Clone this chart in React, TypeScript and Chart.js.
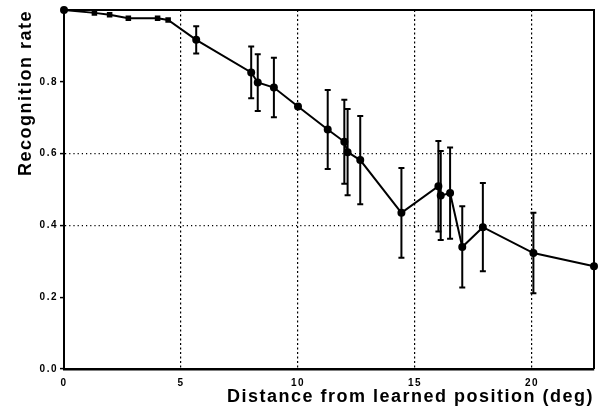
import React, { useEffect, useRef } from "react";
import { Chart, registerables } from "chart.js";

Chart.register(...registerables);

// Distance from learned position (deg)
const distanceDeg = [0, 1.3, 1.95, 2.75, 4.0, 4.45, 5.65, 8.0, 8.28, 8.97, 10.0, 11.27, 11.98, 12.12, 12.66, 14.42, 16.0, 16.1, 16.5, 17.02, 17.9, 20.06, 22.65];
// Recognition rate
const recognitionRate = [1.0, 0.992, 0.987, 0.977, 0.977, 0.972, 0.917, 0.826, 0.798, 0.784, 0.731, 0.667, 0.633, 0.604, 0.582, 0.435, 0.509, 0.483, 0.49, 0.34, 0.395, 0.323, 0.286];
// Error (half-length of error bars)
const rateError = [0, 0, 0, 0, 0, 0, 0.038, 0.072, 0.079, 0.083, 0, 0.11, 0.117, 0.12, 0.123, 0.125, 0.126, 0.124, 0.127, 0.113, 0.123, 0.112, 0];

const xTickValues = [0, 5, 10, 15, 20];
const yTickLabels = ["0.0", "0.2", "0.4", "0.6", "0.8"];
const xGridValues = [5, 10, 15, 20];
const yGridValues = [0.4, 0.6];
const xMax = 22.65;
const yMax = 1.0;

const xTitle = "Distance from learned position (deg)";
const yTitle = "Recognition rate";

const errorBarPlugin = {
  id: "errorBars",
  afterDatasetsDraw(chart: any) {
    const { ctx, scales } = chart;
    const xs = scales.x;
    const ys = scales.y;
    ctx.save();
    ctx.strokeStyle = "#000";
    ctx.lineWidth = 2;
    ctx.setLineDash([]);
    for (let i = 0; i < distanceDeg.length; i++) {
      const e = rateError[i];
      if (!e) continue;
      const px = xs.getPixelForValue(distanceDeg[i]);
      const top = ys.getPixelForValue(recognitionRate[i] + e);
      const bot = ys.getPixelForValue(recognitionRate[i] - e);
      ctx.beginPath();
      ctx.moveTo(px, top);
      ctx.lineTo(px, bot);
      ctx.moveTo(px - 3, top);
      ctx.lineTo(px + 3, top);
      ctx.moveTo(px - 3, bot);
      ctx.lineTo(px + 3, bot);
      ctx.stroke();
    }
    ctx.restore();
  },
};

const framePlugin = {
  id: "frame",
  beforeDraw(chart: any) {
    chart.ctx.letterSpacing = "1.5px";
  },
  afterDraw(chart: any) {
    const { ctx, chartArea } = chart;
    ctx.save();
    ctx.strokeStyle = "#000";
    ctx.lineWidth = 2;
    ctx.setLineDash([]);
    ctx.beginPath();
    ctx.moveTo(chartArea.left, chartArea.top);
    ctx.lineTo(chartArea.right, chartArea.top);
    ctx.lineTo(chartArea.right, chartArea.bottom);
    ctx.stroke();
    ctx.restore();
    ctx.letterSpacing = "0px";
  },
};

export default function App() {
  const canvasRef = useRef<HTMLCanvasElement | null>(null);

  useEffect(() => {
    if (!canvasRef.current) return;
    const points = distanceDeg.map((x, i) => ({ x, y: recognitionRate[i] }));
    const chart = new Chart(canvasRef.current, {
      type: "scatter",
      data: {
        datasets: [
          {
            data: points,
            showLine: true,
            borderColor: "#000",
            borderWidth: 2,
            backgroundColor: "#000",
            pointBackgroundColor: "#000",
            pointBorderColor: "#000",
            pointRadius: (c: any) => (c.dataIndex > 0 && c.dataIndex < 6 ? 2.5 : 3),
            pointStyle: (c: any) => (c.dataIndex > 0 && c.dataIndex < 6 ? "rect" : "circle"),
            tension: 0,
            clip: false as any,
          },
        ],
      },
      options: {
        animation: false,
        responsive: false,
        maintainAspectRatio: false,
        devicePixelRatio: 1,
        layout: { padding: { top: 10, right: 2, left: 0, bottom: 0 } },
        plugins: {
          legend: { display: false },
          tooltip: { enabled: false },
        },
        scales: {
          x: {
            type: "linear",
            min: 0,
            max: xMax,
            afterFit: (s: any) => {
              s.height = 42;
            },
            afterBuildTicks: (s: any) => {
              s.ticks = xTickValues.map((v) => ({ value: v }));
            },
            ticks: {
              color: "#000",
              padding: 8,
              maxRotation: 0,
              autoSkip: false,
              font: { family: "Liberation Sans", weight: "bold", size: 10 },
              callback: (v: any) => String(v),
            },
            grid: {
              drawTicks: false,
              lineWidth: 1.2,
              color: (c: any) => (c.tick && xGridValues.includes(c.tick.value) ? "#000" : "rgba(0,0,0,0)"),
            },
            border: { display: true, color: "#000", width: 2.5, dash: [2, 2.5] as any },
            title: {
              display: true,
              text: xTitle,
              align: "end",
              color: "#000",
              padding: { top: 0, bottom: 3 },
              font: { family: "Liberation Sans", weight: "bold", size: 18 },
            },
          },
          y: {
            type: "linear",
            min: 0,
            max: yMax,
            afterFit: (s: any) => {
              s.width = 64;
            },
            afterBuildTicks: (s: any) => {
              s.ticks = yTickLabels.map((l) => ({ value: parseFloat(l) }));
            },
            ticks: {
              color: "#000",
              padding: 2,
              autoSkip: false,
              font: { family: "Liberation Sans", weight: "bold", size: 10 },
              callback: (v: any) => Number(v).toFixed(1),
            },
            grid: {
              drawTicks: true,
              tickLength: 4,
              tickColor: "#000",
              tickWidth: 1.5,
              lineWidth: 1.2,
              color: (c: any) => (c.tick && yGridValues.some((g) => Math.abs(g - c.tick.value) < 1e-6) ? "#000" : "rgba(0,0,0,0)"),
            },
            border: { display: true, color: "#000", width: 2, dash: [1.2, 3] as any },
            title: {
              display: true,
              text: yTitle,
              align: "end",
              color: "#000",
              padding: { top: 15, bottom: 0 },
              font: { family: "Liberation Sans", weight: "bold", size: 18 },
            },
          },
        },
      },
      plugins: [errorBarPlugin, framePlugin],
    });
    return () => chart.destroy();
  }, []);

  return (
    <div style={{ position: "fixed", left: 0, top: 0, width: 600, height: 411, background: "#fff" }}>
      <canvas ref={canvasRef} width={600} height={411} style={{ width: 600, height: 411 }} />
    </div>
  );
}
